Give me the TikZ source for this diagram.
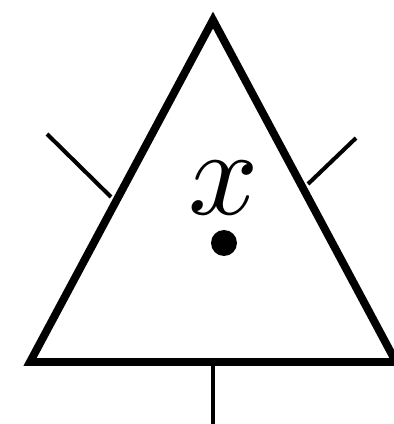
\documentclass[tikz,border=0pt]{standalone}
\usepackage{amsmath,amssymb}
\usepackage{tikz}
\usetikzlibrary{calc,positioning}

\begin{document}
\begin{tikzpicture}[tri/.style={line width=4.5pt,line join=miter},
                    leg/.style={line width=2.3pt}]
\useasboundingbox (0,0) rectangle (7.88,8.48);
\coordinate (top) at (4.26,8.08);
\coordinate (bl) at (0.6,1.24);
\coordinate (br) at (7.92,1.24);
\coordinate (lout) at (0.94,5.8);
\coordinate (lin) at (2.22,4.54);
\coordinate (rout) at (7.12,5.72);
\coordinate (rin) at (6.16,4.8);
\coordinate (bot) at (4.26,0);
\draw[leg] (lout) -- (lin);
\draw[leg] (rout) -- (rin);
\draw[leg] (bl -| top) -- (bot);
\draw[tri] (top) -- (bl) -- (br) -- cycle;
\node[scale=7] (lab) at (4.48,4.72) {$x$};
\fill (4.48,3.62) circle (0.26) coordinate (pt);
\end{tikzpicture}
\end{document}
